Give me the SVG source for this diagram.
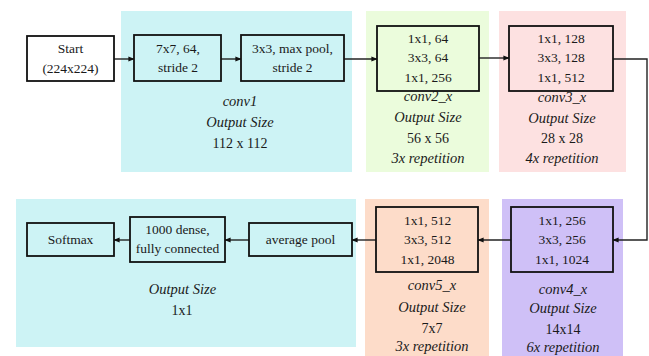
<svg xmlns="http://www.w3.org/2000/svg" width="649" height="356" viewBox="0 0 649 356">
  <style>
    .stage { stroke: none; }
    .box { fill: none; stroke: #111; stroke-width: 1.8; }
    .wire { fill: none; stroke: #222; stroke-width: 1.4; }
    text { font-family: "Liberation Serif", "Times New Roman", serif; fill: #1a1a1a; text-anchor: middle; }
    .in { font-size: 13.5px; }
    .lbl { font-size: 14px; }
    .it { font-size: 14.5px; font-style: italic; }
  </style>
  <defs>
    <marker id="arrow" viewBox="0 0 8 8" refX="7.5" refY="4" markerWidth="6" markerHeight="6" markerUnits="userSpaceOnUse" orient="auto">
      <path d="M0,0.8 L8,4 L0,7.2 Z" fill="#111"/>
    </marker>
  </defs>

  <rect width="649" height="356" fill="#ffffff"/>

  <!-- stage backgrounds -->
  <g id="stage-conv1">
    <rect class="stage" x="121" y="11" width="231" height="161" fill="#cdf3f5"/>
    <text class="it" x="240" y="106">conv1</text>
    <text class="it" x="240" y="127">Output Size</text>
    <text class="lbl" x="240" y="148">112 x 112</text>
  </g>
  <g id="stage-conv2">
    <rect class="stage" x="366" y="11" width="123" height="161" fill="#ebfcdc"/>
    <text class="it" x="428" y="101">conv2_x</text>
    <text class="it" x="428" y="122">Output Size</text>
    <text class="lbl" x="428" y="142.5">56 x 56</text>
    <text class="it" x="428" y="162.5">3x repetition</text>
  </g>
  <g id="stage-conv3">
    <rect class="stage" x="499" y="11" width="127" height="161" fill="#fde1e1"/>
    <text class="it" x="562" y="101.5">conv3_x</text>
    <text class="it" x="562" y="123">Output Size</text>
    <text class="lbl" x="562" y="143">28 x 28</text>
    <text class="it" x="562" y="162.5">4x repetition</text>
  </g>
  <g id="stage-conv4">
    <rect class="stage" x="502" y="199" width="121" height="157" fill="#cfc0f7"/>
    <text class="it" x="563" y="294">conv4_x</text>
    <text class="it" x="563" y="313">Output Size</text>
    <text class="lbl" x="563" y="334">14x14</text>
    <text class="it" x="563" y="351.5">6x repetition</text>
  </g>
  <g id="stage-conv5">
    <rect class="stage" x="365" y="199" width="124" height="157" fill="#fddcc9"/>
    <text class="it" x="432" y="290">conv5_x</text>
    <text class="it" x="432" y="311.5">Output Size</text>
    <text class="lbl" x="432" y="332.5">7x7</text>
    <text class="it" x="432" y="351">3x repetition</text>
  </g>
  <g id="stage-head">
    <rect class="stage" x="16" y="199" width="340" height="148" fill="#cdf3f5"/>
    <text class="it" x="182.5" y="294">Output Size</text>
    <text class="lbl" x="182" y="315">1x1</text>
  </g>

  <!-- connectors -->
  <g id="connectors">
    <line class="wire" x1="114" y1="59" x2="134" y2="59" marker-end="url(#arrow)"/>
    <line class="wire" x1="221" y1="59" x2="241" y2="59" marker-end="url(#arrow)"/>
    <line class="wire" x1="344" y1="59" x2="377" y2="59" marker-end="url(#arrow)"/>
    <line class="wire" x1="479" y1="58" x2="509" y2="58" marker-end="url(#arrow)"/>
    <polyline class="wire" points="613,59 647,59 647,240 613,240" marker-end="url(#arrow)"/>
    <line class="wire" x1="511" y1="240" x2="478" y2="240" marker-end="url(#arrow)"/>
    <line class="wire" x1="376" y1="240" x2="352" y2="240" marker-end="url(#arrow)"/>
    <line class="wire" x1="249" y1="240" x2="225" y2="240" marker-end="url(#arrow)"/>
    <line class="wire" x1="130" y1="240" x2="114" y2="240" marker-end="url(#arrow)"/>
  </g>

  <!-- nodes -->
  <g id="start">
    <rect class="box" x="27" y="36" width="87" height="45" fill="#ffffff" style="fill:#ffffff"/>
    <text class="in" x="70.5" y="53">Start</text>
    <text class="in" x="70.5" y="72.5">(224x224)</text>
  </g>
  <g id="conv7x7">
    <rect class="box" x="134" y="35" width="87" height="46"/>
    <text class="in" x="178" y="52.5">7x7, 64,</text>
    <text class="in" x="178" y="72">stride 2</text>
  </g>
  <g id="maxpool">
    <rect class="box" x="241" y="35" width="103" height="46"/>
    <text class="in" x="292.5" y="52.5">3x3, max pool,</text>
    <text class="in" x="292.5" y="72">stride 2</text>
  </g>
  <g id="conv2-block">
    <rect class="box" x="377" y="26" width="102" height="65"/>
    <text class="in" x="428" y="42.5">1x1, 64</text>
    <text class="in" x="428" y="62">3x3, 64</text>
    <text class="in" x="428" y="81.5">1x1, 256</text>
  </g>
  <g id="conv3-block">
    <rect class="box" x="509" y="26" width="104" height="65"/>
    <text class="in" x="561" y="42.5">1x1, 128</text>
    <text class="in" x="561" y="62">3x3, 128</text>
    <text class="in" x="561" y="81.5">1x1, 512</text>
  </g>
  <g id="conv4-block">
    <rect class="box" x="511" y="207" width="102" height="65"/>
    <text class="in" x="562" y="224.5">1x1, 256</text>
    <text class="in" x="562" y="244">3x3, 256</text>
    <text class="in" x="562" y="263.5">1x1, 1024</text>
  </g>
  <g id="conv5-block">
    <rect class="box" x="376" y="207" width="102" height="65"/>
    <text class="in" x="427.5" y="224.5">1x1, 512</text>
    <text class="in" x="427.5" y="244">3x3, 512</text>
    <text class="in" x="427.5" y="263.5">1x1, 2048</text>
  </g>
  <g id="avgpool">
    <rect class="box" x="249" y="223" width="103" height="33"/>
    <text class="in" x="300.5" y="243.5">average pool</text>
  </g>
  <g id="dense">
    <rect class="box" x="130" y="217" width="95" height="45"/>
    <text class="in" x="177.5" y="233.5">1000 dense,</text>
    <text class="in" x="177.5" y="253">fully connected</text>
  </g>
  <g id="softmax">
    <rect class="box" x="27" y="223" width="87" height="33"/>
    <text class="in" x="70.5" y="243.5">Softmax</text>
  </g>
</svg>
